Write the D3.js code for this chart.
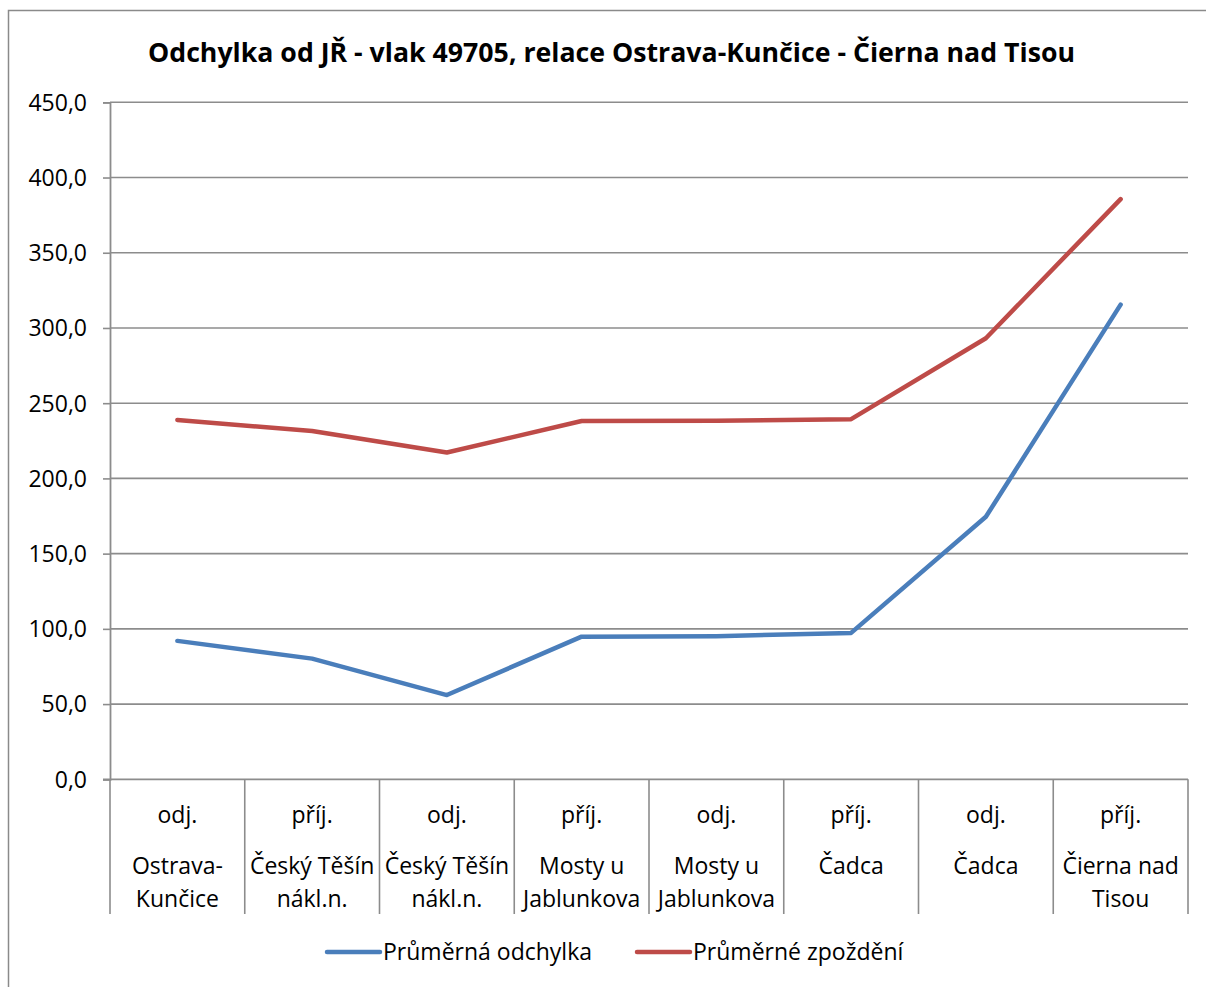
<!DOCTYPE html>
<html>
<head>
<meta charset="utf-8">
<script src="https://cdn.jsdelivr.net/npm/d3@7"></script>
<style>
  html, body { margin: 0; padding: 0; background: #fff; }
  svg { display: block; }
  text { font-family: "Open Sans", "Liberation Sans", sans-serif; fill: #000; }
</style>
</head>
<body>
<svg id="chart" width="1206" height="987"></svg>
<script>
const title = "Odchylka od JŘ - vlak 49705, relace Ostrava-Kunčice - Čierna nad Tisou";
const eventLabels = ["odj.", "příj.", "odj.", "příj.", "odj.", "příj.", "odj.", "příj."];
const stationLabels = [
  ["Ostrava-", "Kunčice"],
  ["Český Těšín", "nákl.n."],
  ["Český Těšín", "nákl.n."],
  ["Mosty u", "Jablunkova"],
  ["Mosty u", "Jablunkova"],
  ["Čadca"],
  ["Čadca"],
  ["Čierna nad", "Tisou"]
];
const seriesNames = ["Průměrná odchylka", "Průměrné zpoždění"];
const odchylka = [92.0, 80.2, 56.0, 94.8, 95.1, 97.3, 174.5, 315.5];
const zpozdeni = [238.9, 231.5, 217.2, 238.2, 238.3, 239.4, 293.2, 385.6];
const yTicks = [0, 50, 100, 150, 200, 250, 300, 350, 400, 450];
const colors = ["#4A7EBB", "#BE4B48"];

(function () {
const svg = d3.select("#chart");
const pLeft = 110, pRight = 1188, pTop = 102.3, pBottom = 779.3;
const fs = 23;

// outer border
svg.append("rect")
  .attr("x", 8.5).attr("y", 10.5)
  .attr("width", 1220).attr("height", 1000)
  .attr("fill", "none").attr("stroke", "#8a8a8a").attr("stroke-width", 1.5);

// title
svg.append("text")
  .attr("x", 611.5).attr("y", 62)
  .attr("text-anchor", "middle")
  .attr("font-weight", "bold")
  .attr("font-size", 27)
  .attr("textLength", 927).attr("lengthAdjust", "spacingAndGlyphs")
  .text(title);

const y = d3.scaleLinear().domain([0, 450]).range([pBottom, pTop]);
const x = d3.scaleBand().domain(d3.range(eventLabels.length)).range([pLeft, pRight]).paddingInner(0).paddingOuter(0);
const cx = i => x(i) + x.bandwidth() / 2;

// gridlines
svg.append("g").selectAll("line").data(yTicks.filter(t => t > 0)).join("line")
  .attr("x1", pLeft).attr("x2", pRight)
  .attr("y1", d => y(d)).attr("y2", d => y(d))
  .attr("stroke", "#8c8c8c").attr("stroke-width", 1.6);

// y axis
const yAxis = d3.axisLeft(y).tickValues(yTicks).tickSize(7).tickPadding(16)
  .tickFormat(d => d3.format(".1f")(d).replace(".", ","));
const yg = svg.append("g").attr("transform", `translate(${pLeft},0)`).call(yAxis);
yg.select(".domain").attr("stroke", "#8c8c8c").attr("stroke-width", 1.8);
yg.selectAll(".tick line").attr("stroke", "#8c8c8c").attr("stroke-width", 1.6);
yg.selectAll(".tick text")
  .attr("font-family", "'Open Sans', sans-serif")
  .attr("font-size", fs).attr("fill", "#000")
  .attr("dy", "0.34em");

// x axis baseline
svg.append("line")
  .attr("x1", pLeft - 7).attr("x2", pRight)
  .attr("y1", pBottom).attr("y2", pBottom)
  .attr("stroke", "#8c8c8c").attr("stroke-width", 1.8);

// category separators
const seps = d3.range(eventLabels.length + 1).map(i => i === eventLabels.length ? pRight : x(i));
svg.append("g").selectAll("line").data(seps).join("line")
  .attr("x1", d => d).attr("x2", d => d)
  .attr("y1", pBottom).attr("y2", 914)
  .attr("stroke", "#8c8c8c").attr("stroke-width", 1.6);

// category labels
const lab = svg.append("g").attr("font-size", fs);
lab.selectAll("text.ev").data(eventLabels).join("text")
  .attr("class", "ev")
  .attr("x", (d, i) => cx(i)).attr("y", 823)
  .attr("text-anchor", "middle")
  .text(d => d);
stationLabels.forEach((lines, i) => {
  lines.forEach((ln, j) => {
    lab.append("text")
      .attr("x", cx(i)).attr("y", 874 + j * 33)
      .attr("text-anchor", "middle")
      .text(ln);
  });
});

// lines
const line = d3.line().x((d, i) => cx(i)).y(d => y(d));
[odchylka, zpozdeni].forEach((s, k) => {
  svg.append("path")
    .datum(s)
    .attr("d", line)
    .attr("fill", "none")
    .attr("stroke", colors[k])
    .attr("stroke-width", 4.5)
    .attr("stroke-linejoin", "round")
    .attr("stroke-linecap", "round");
});

// legend
const legendItems = [{x: 327}, {x: 637}];
legendItems.forEach((it, k) => {
  svg.append("line")
    .attr("x1", it.x).attr("x2", it.x + 53)
    .attr("y1", 952).attr("y2", 952)
    .attr("stroke", colors[k]).attr("stroke-width", 4.5)
    .attr("stroke-linecap", "round");
  svg.append("text")
    .attr("x", it.x + 56).attr("y", 959.5)
    .attr("font-size", fs)
    .text(seriesNames[k]);
});
})();
</script>
</body>
</html>
